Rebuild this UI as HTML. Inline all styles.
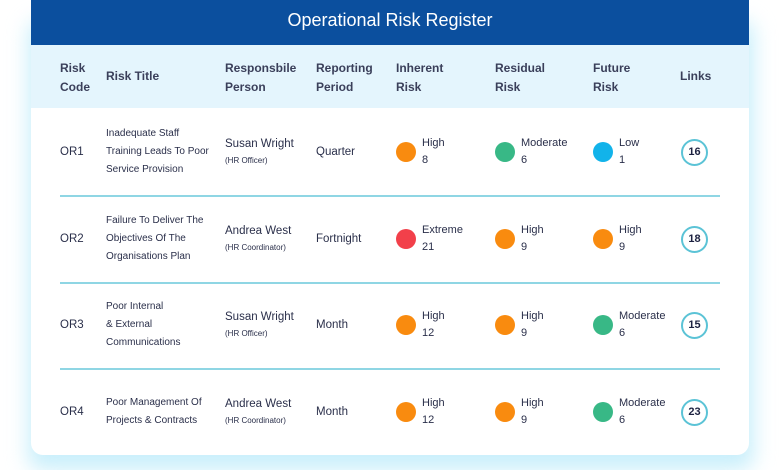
<!DOCTYPE html>
<html><head><meta charset="utf-8"><style>
*{margin:0;padding:0;box-sizing:border-box}
body{width:780px;height:470px;background:#fff;font-family:"Liberation Sans",sans-serif;color:#2a2f4a;position:relative;overflow:hidden}
.glow{position:absolute;left:28px;top:20px;width:726px;height:450px;background:#c9effb;filter:blur(10px);border-radius:14px}
.card{position:absolute;left:31px;top:0;width:718px;height:455px;background:#fff;border-radius:0 0 12px 12px;overflow:hidden}
.hdr{height:45px;background:#0b4f9e;color:#fff;font-size:18px;text-align:center;line-height:40px}
.sub{position:absolute;top:45px;left:0;width:718px;height:63px;background:#e4f5fd}
.h{position:absolute;font-size:12px;font-weight:bold;color:#3a3f5a;line-height:19px}
.t{position:absolute;font-size:11.5px;line-height:18px}
.s{position:absolute;font-size:10px;line-height:18px}
.p{position:absolute;font-size:8px}
.sep{position:absolute;left:29px;width:660px;height:2px;background:#8fd6e4}
.dot{position:absolute;width:20px;height:20px;border-radius:50%}
.lnk{position:absolute;width:27px;height:27px;border:2px solid #5bc3d6;border-radius:50%;font-size:11px;font-weight:bold;text-align:center;line-height:23px;color:#1c2140}
</style></head><body>
<div class="glow"></div>
<div class="card">
<div class="hdr">Operational Risk Register</div>
<div class="sub">
<div class="h" style="left:29px;top:14px">Risk<br>Code</div>
<div class="h" style="left:75px;top:22px">Risk Title</div>
<div class="h" style="left:194px;top:14px">Responsbile<br>Person</div>
<div class="h" style="left:285px;top:14px">Reporting<br>Period</div>
<div class="h" style="left:365px;top:14px">Inherent<br>Risk</div>
<div class="h" style="left:464px;top:14px">Residual<br>Risk</div>
<div class="h" style="left:562px;top:14px">Future<br>Risk</div>
<div class="h" style="left:649px;top:22px">Links</div>
</div>
<div id="rows"></div>
</div>
<script>
const codes=["OR1","OR2","OR3","OR4"];
const titles=[["Inadequate Staff","Training Leads To Poor","Service Provision"],["Failure To Deliver The","Objectives Of The","Organisations Plan"],["Poor Internal","& External","Communications"],["Poor Management Of","Projects & Contracts"]];
const persons=["Susan Wright","Andrea West","Susan Wright","Andrea West"];
const roles=["(HR Officer)","(HR Coordinator)","(HR Officer)","(HR Coordinator)"];
const periods=["Quarter","Fortnight","Month","Month"];
const inherent=[["High",8],["Extreme",21],["High",12],["High",12]];
const residual=[["Moderate",6],["High",9],["High",9],["High",9]];
const future=[["Low",1],["High",9],["Moderate",6],["Moderate",6]];
const links=[16,18,15,23];
const colors={High:"#f98b0f",Moderate:"#38b886",Low:"#12b3ea",Extreme:"#f2404a"};
const root=document.getElementById('rows');
function add(cls,style,html,name){const e=document.createElement('div');e.className=cls;e.style.cssText=style;e.innerHTML=html;


root.appendChild(e);return e;}
codes.forEach((c,i)=>{
 const cy=152+i*86.7;
 add('t',`left:29px;top:${cy-9}px`,c,'risk-code');
 add('s',`left:75px;top:${cy-titles[i].length*9}px`,titles[i].join('<br>'),'risk-title');
 add('t',`left:194px;top:${cy-17}px`,persons[i],'person-name');
 add('p',`left:194px;top:${cy+4}px`,roles[i],'person-role');
 add('t',`left:285px;top:${cy-9}px`,periods[i],'reporting-period');
 [[inherent,375],[residual,474],[future,572]].forEach(([arr,x])=>{
  add('dot',`left:${x-10}px;top:${cy-10}px;background:${colors[arr[i][0]]}`,'','risk-dot');
  add('s',`left:${x+16}px;top:${cy-17}px;font-size:11px;line-height:17px`,arr[i][0]+'<br>'+arr[i][1],'risk-level');
 });
 const l=add('lnk',`left:${663-13}px;top:${cy-13}px`,links[i],'links-badge');
 
 if(i<3)add('sep',`top:${cy+43}px`,'','row-separator');
});
</script>
</body></html>
